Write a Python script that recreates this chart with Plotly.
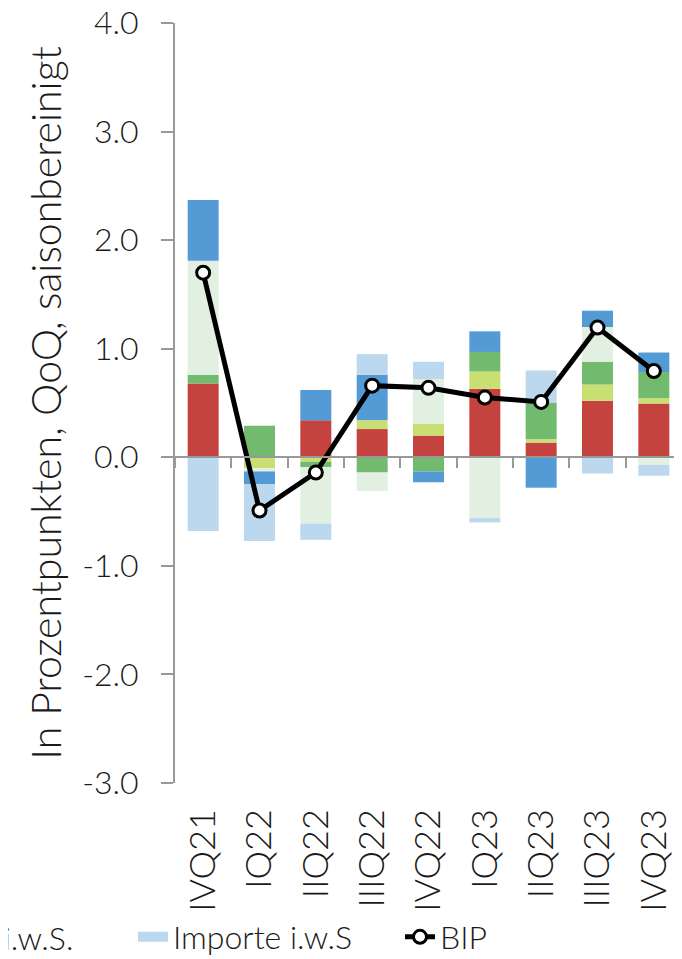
import plotly.graph_objects as go

quarters = ["IVQ21", "IQ22", "IIQ22", "IIIQ22", "IVQ22", "IQ23", "IIQ23", "IIIQ23", "IVQ23"]

privater_konsum = [0.68, 0.00, 0.34, 0.26, 0.20, 0.63, 0.135, 0.52, 0.495]
staatskonsum = [0.00, -0.10, -0.04, 0.08, 0.11, 0.16, 0.03, 0.15, 0.05]
investitionen = [0.08, 0.29, -0.05, -0.14, -0.13, 0.18, 0.335, 0.21, 0.24]
lager = [1.05, -0.03, -0.52, -0.17, 0.41, -0.56, 0.00, 0.32, -0.07]
exporte = [0.56, -0.12, 0.28, 0.42, -0.10, 0.19, -0.28, 0.15, 0.18]
importe = [-0.68, -0.52, -0.15, 0.19, 0.16, -0.04, 0.30, -0.15, -0.10]
bip = [1.70, -0.49, -0.14, 0.66, 0.64, 0.55, 0.51, 1.195, 0.795]

y_tickvals = [-3, -2, -1, 0, 1, 2, 3, 4]
y_ticktext = ["-3.0", "-2.0", "-1.0", "0.0", "1.0", "2.0", "3.0", "4.0"]

names = ["Privater Konsum", "Staatskonsum", "Bruttoanlageinvestitionen",
         "Lagerveränderungen", "Exporte i.w.S.", "Importe i.w.S"]
series = [privater_konsum, staatskonsum, investitionen, lager, exporte, importe]
colors = ["#C4433F", "#C9DF72", "#72BA6E", "#E2F0E1", "#549BD6", "#BCD8EE"]

FONT = "Lato"
W, H = 674, 951
L, T, PH = 167, 15, 760
PW = W - L

fig = go.Figure()
for name, vals, col in zip(names, series, colors):
    fig.add_trace(go.Bar(x=quarters, y=vals, name=name, marker_color=col,
                         marker_line_width=0, showlegend=False, legendgroup=name))

fig.add_trace(go.Scatter(x=quarters, y=bip, name="BIP", mode="lines+markers",
                         line=dict(color="black", width=5),
                         marker=dict(size=13, color="white",
                                     line=dict(color="black", width=3)),
                         legend="legend2"))

# legend swatch for imports (wide rectangle like the reference)
fig.add_trace(go.Scatter(x=[None], y=[None], name=names[5], mode="lines",
                         line=dict(color=colors[5], width=19),
                         legendgroup=names[5], hoverinfo="skip", legend="legend"))

# invisible trace on overlay axis carrying the zero-line ticks
fig.add_trace(go.Scatter(x=[None], y=[None], xaxis="x2", showlegend=False,
                         hoverinfo="skip"))

# legend entry for exports, cut at the left page edge as in the reference
leg_y_fig = 929
fig.add_annotation(text=names[4], xref="paper", yref="paper",
                   x=(67 - L) / PW, y=(T + PH - leg_y_fig) / PH,
                   xanchor="right", yanchor="middle", showarrow=False,
                   font=dict(size=32, family=FONT, color="#1a1a1a", weight=300))

fig.update_layout(
    width=W, height=H,
    barmode="relative",
    bargap=0.45,
    plot_bgcolor="white",
    paper_bgcolor="white",
    font=dict(family=FONT, size=32, color="#1a1a1a", weight=300),
    margin=dict(l=L, r=0, t=T, b=H - T - PH, autoexpand=False),
    xaxis=dict(
        range=[-0.5, 8.5],
        showline=False, ticks="", showgrid=False, zeroline=False,
        tickangle=-90, tickfont=dict(size=36, family=FONT),
        ticklabelstandoff=18,
    ),
    xaxis2=dict(
        overlaying="x", anchor="free", position=3 / 7,
        range=[-0.5, 8.5], showline=True, linecolor="#999999", linewidth=2,
        ticks="outside", ticklen=10, tickwidth=2, tickcolor="#999999",
        tickmode="array", tickvals=[-0.5 + i for i in range(10)],
        showticklabels=False, showgrid=False, zeroline=False,
    ),
    yaxis=dict(
        range=[-3, 4], tickmode="array", tickvals=y_tickvals, ticktext=y_ticktext,
        showline=True, linecolor="#999999", linewidth=2,
        ticks="outside", ticklen=12, tickwidth=2, tickcolor="#999999",
        showgrid=False, zeroline=False, tickfont=dict(size=32, family=FONT),
        ticklabelstandoff=16, ticklabeloverflow="allow",
        title=dict(text="In Prozentpunkten, QoQ, saisonbereinigt",
                   font=dict(size=41, family=FONT), standoff=8),
    ),
    legend=dict(
        orientation="h", xref="container", yref="container",
        x=125 / W, y=1 - leg_y_fig / H, xanchor="left", yanchor="middle",
        font=dict(size=32, family=FONT), bgcolor="rgba(0,0,0,0)",
    ),
    legend2=dict(
        orientation="h", xref="container", yref="container",
        x=392 / W, y=1 - leg_y_fig / H, xanchor="left", yanchor="middle",
        font=dict(size=32, family=FONT), bgcolor="rgba(0,0,0,0)",
    ),
)

fig.write_html("out.html")
